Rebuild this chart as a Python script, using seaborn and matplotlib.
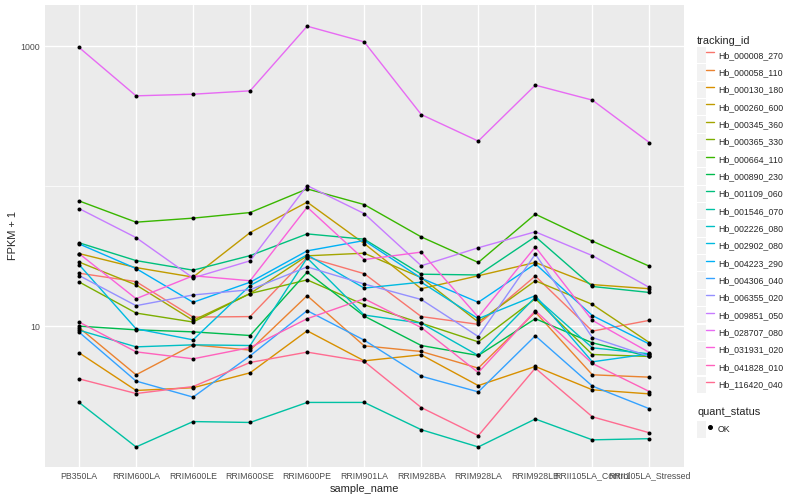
import seaborn as sns
import pandas as pd
from matplotlib import pyplot as plt
from matplotlib.lines import Line2D
from matplotlib.patches import Rectangle
from matplotlib.legend_handler import HandlerTuple
from matplotlib.ticker import FixedLocator, NullFormatter

samples = ["PB350LA", "RRIM600LA", "RRIM600LE", "RRIM600SE", "RRIM600PE", "RRIM901LA",
           "RRIM928BA", "RRIM928LA", "RRIM928LB", "RRII105LA_Control", "RRII105LA_Stressed"]

tracking_ids = ["Hb_000008_270", "Hb_000058_110", "Hb_000130_180", "Hb_000260_600",
                "Hb_000345_360", "Hb_000365_330", "Hb_000664_110", "Hb_000890_230",
                "Hb_001109_060", "Hb_001546_070", "Hb_002226_080", "Hb_002902_080",
                "Hb_004223_290", "Hb_004306_040", "Hb_006355_020", "Hb_009851_050",
                "Hb_028707_080", "Hb_031931_020", "Hb_041828_010", "Hb_116420_040"]

# FPKM + 1, one list per gene, in sample order
hb_000008_270 = [23.9, 20.8, 11.6, 11.7, 31.1, 23.7, 11.7, 10.3, 22.8, 9.21, 11.0]
hb_000058_110 = [9.77, 4.49, 7.35, 6.74, 16.5, 7.23, 6.59, 5.01, 12.6, 4.49, 4.32]
hb_000130_180 = [6.45, 3.47, 3.63, 4.64, 9.26, 5.65, 6.24, 3.76, 5.15, 3.51, 3.28]
hb_000260_600 = [33.0, 26.2, 22.4, 46.6, 76.9, 38.9, 18.5, 22.9, 28.5, 19.8, 18.5]
hb_000345_360 = [28.7, 19.7, 11.0, 17.1, 31.8, 33.2, 22.2, 10.7, 21.1, 14.3, 7.63]
hb_000365_330 = [20.7, 12.4, 10.7, 17.1, 21.4, 14.2, 10.5, 7.72, 15.7, 6.27, 6.07]
hb_000664_110 = [78.5, 55.3, 59.1, 64.8, 95.6, 73.9, 43.4, 28.5, 63.1, 40.5, 26.8]
hb_000890_230 = [10.0, 9.41, 9.10, 8.57, 24.3, 11.8, 7.27, 6.17, 11.3, 7.6, 6.07]
hb_001109_060 = [39.4, 29.4, 25.1, 31.9, 45.6, 41.8, 23.5, 23.2, 43.6, 19.2, 17.4]
hb_001546_070 = [2.85, 1.37, 2.08, 2.05, 2.85, 2.85, 1.82, 1.37, 2.17, 1.54, 1.57]
hb_002226_080 = [9.36, 7.11, 7.35, 7.27, 30.7, 12.0, 10.5, 6.17, 16.1, 7.0, 6.34]
hb_002902_080 = [27.5, 9.57, 7.98, 19.5, 32.3, 18.7, 20.6, 11.3, 16.5, 5.56, 6.34]
hb_004223_290 = [38.7, 25.8, 14.8, 20.6, 34.5, 40.9, 22.0, 14.8, 27.9, 11.9, 7.44]
hb_004306_040 = [9.06, 4.05, 3.11, 6.14, 12.9, 7.94, 4.39, 3.39, 8.53, 3.73, 2.57]
hb_006355_020 = [23.0, 14.0, 16.7, 18.2, 26.5, 20.0, 15.5, 8.43, 32.7, 8.29, 6.07]
hb_009851_050 = [69.2, 42.9, 22.1, 29.3, 101.0, 63.7, 27.0, 36.3, 47.2, 31.9, 18.9]
hb_028707_080 = [980, 442, 454, 480, 1390, 1074, 325, 210, 527, 412, 205]
hb_031931_020 = [33.0, 15.7, 22.9, 21.1, 70.8, 29.9, 33.8, 11.6, 36.8, 11.0, 6.48]
hb_041828_010 = [10.7, 6.55, 5.84, 7.03, 11.3, 15.7, 9.77, 4.66, 12.9, 5.41, 3.41]
hb_116420_040 = [4.2, 3.30, 3.70, 5.50, 6.52, 5.59, 2.62, 1.65, 5.01, 2.25, 1.73]

series = [hb_000008_270, hb_000058_110, hb_000130_180, hb_000260_600, hb_000345_360,
          hb_000365_330, hb_000664_110, hb_000890_230, hb_001109_060, hb_001546_070,
          hb_002226_080, hb_002902_080, hb_004223_290, hb_004306_040, hb_006355_020,
          hb_009851_050, hb_028707_080, hb_031931_020, hb_041828_010, hb_116420_040]

# ggplot default hue palette for 20 levels
colors = ["#F8766D", "#EA8331", "#D89000", "#C09B00", "#A3A500", "#7CAE00", "#39B600",
          "#00BB4E", "#00BF7D", "#00C1A3", "#00BFC4", "#00BAE0", "#00B0F6", "#35A2FF",
          "#9590FF", "#C77CFF", "#E76BF3", "#FA62DB", "#FF62BC", "#FF6C91"]

rows = []
for tid, vals in zip(tracking_ids, series):
    for s, v in zip(samples, vals):
        rows.append({"sample_name": s, "tracking_id": tid, "fpkm": v, "quant_status": "OK"})
df = pd.DataFrame(rows)

sns.set_theme(style="darkgrid", rc={
    "axes.facecolor": "#EBEBEB",
    "grid.color": "white",
    "axes.edgecolor": "none",
})
plt.rcParams["font.family"] = ["Liberation Sans", "DejaVu Sans"]

fig = plt.figure(figsize=(800 / 72, 500 / 72), dpi=72)
ax = fig.add_axes([0.056, 0.0666, 0.7985, 0.9234])

sns.lineplot(data=df, x="sample_name", y="fpkm", hue="tracking_id", palette=colors,
             hue_order=tracking_ids, sort=False, linewidth=1.4, legend=False, ax=ax)
sns.scatterplot(data=df, x="sample_name", y="fpkm", color="black", s=16, linewidth=0,
                legend=False, ax=ax, zorder=5)

ax.set_yscale("log")
ax.set_ylim(0.99, 1970)
ax.set_xlim(-0.6, 10.6)
ax.yaxis.set_major_locator(FixedLocator([10, 1000]))
ax.set_yticklabels(["10", "1000"])
ax.yaxis.set_minor_locator(FixedLocator([100]))
ax.yaxis.set_minor_formatter(NullFormatter())
ax.grid(True, which="major", color="white", linewidth=1.4)
ax.grid(True, which="minor", axis="y", color="white", linewidth=0.7)
ax.tick_params(axis="both", which="major", length=2.75, width=1.1, color="#333333",
               labelsize=8.8, labelcolor="#4D4D4D", pad=2.2)
ax.tick_params(axis="y", which="minor", length=0)
ax.set_xlabel("sample_name", fontsize=11, labelpad=3)
ax.set_ylabel("FPKM + 1", fontsize=11, labelpad=2.5)

key_bg = "#F2F2F2"
handles = [(Rectangle((0, 0), 1, 1, facecolor=key_bg, edgecolor="none"),
            Line2D([], [], color=c, linewidth=1.4)) for c in colors]
fig.legend(handles, tracking_ids, title="tracking_id", loc="upper left",
           bbox_to_anchor=(697 / 800, 1 - 36 / 500), frameon=False,
           handler_map={tuple: HandlerTuple(ndivide=None, pad=0)},
           handlelength=1.95, handleheight=2.47, labelspacing=0.12, handletextpad=0.45,
           borderpad=0, borderaxespad=0, fontsize=8.8, title_fontsize=11, alignment="left")

ok_handle = [(Rectangle((0, 0), 1, 1, facecolor=key_bg, edgecolor="none"),
              Line2D([], [], color="black", marker="o", markersize=3.9, linestyle="none"))]
fig.legend(ok_handle, ["OK"], title="quant_status", loc="upper left",
           bbox_to_anchor=(697 / 800, 1 - 407 / 500), frameon=False,
           handler_map={tuple: HandlerTuple(ndivide=None, pad=0)},
           handlelength=1.95, handleheight=2.47, handletextpad=0.45,
           borderpad=0, borderaxespad=0, fontsize=8.8, title_fontsize=11, alignment="left")

fig.savefig("out.png", dpi=72)
